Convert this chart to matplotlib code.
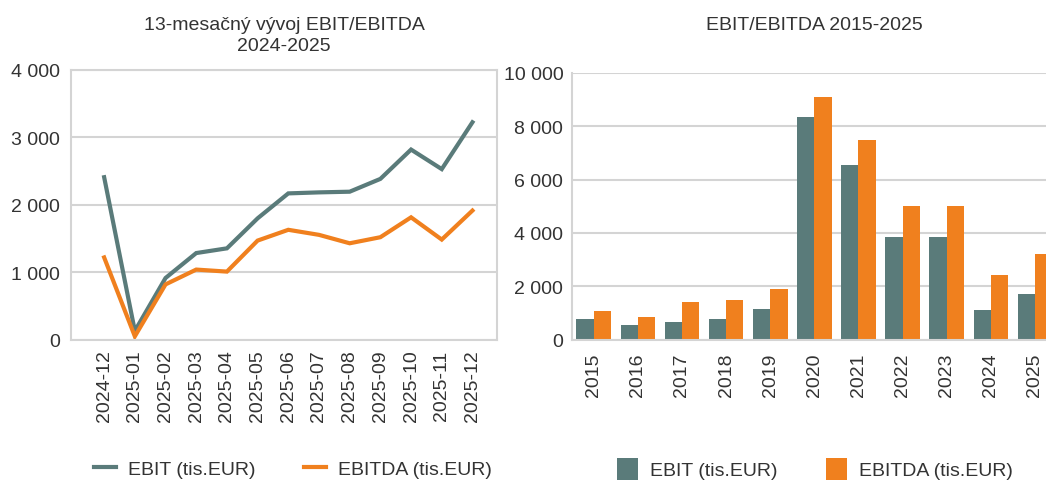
import numpy as np
import matplotlib
matplotlib.use("Agg")
import matplotlib.pyplot as plt
from matplotlib.ticker import FuncFormatter

plt.rcParams['font.family'] = ['Liberation Sans', 'DejaVu Sans']

# -------------------------------
# data
# -------------------------------
months = ['2024-12', '2025-01', '2025-02', '2025-03', '2025-04', '2025-05', '2025-06',
          '2025-07', '2025-08', '2025-09', '2025-10', '2025-11', '2025-12']
ebit_m = [2410, 130, 915, 1285, 1355, 1800, 2170, 2185, 2195, 2385, 2820, 2530, 3225]
ebitda_m = [1220, 50, 820, 1040, 1010, 1470, 1630, 1555, 1430, 1520, 1815, 1485, 1915]

years = ['2015', '2016', '2017', '2018', '2019', '2020', '2021', '2022', '2023', '2024', '2025']
ebit_y = [785, 535, 672, 784, 1158, 8330, 6537, 3848, 3848, 1115, 1715]
ebitda_y = [1083, 859, 1419, 1494, 1905, 9077, 7471, 5006, 5006, 2425, 3212]

c_ebit = '#5A7B7A'
c_ebitda = '#F0801E'
c_grid = '#D4D4D4'
c_text = '#333333'
fs = 14

def thousands(v, pos):
    return f'{int(v):,}'.replace(',', ' ')

W, H = 1046, 481
fig = plt.figure(figsize=(W / 100, H / 100), dpi=100)

# -------------------------------
# left: monthly lines
# -------------------------------
ax1 = fig.add_axes([71 / W, 1 - 340.7 / H, (497 - 71) / W, (340.7 - 71) / H])
x = np.arange(len(months))
l1, = ax1.plot(x, ebit_m, color=c_ebit, lw=3, solid_joinstyle='miter')
l2, = ax1.plot(x, ebitda_m, color=c_ebitda, lw=3, solid_joinstyle='miter')
ax1.set_xlim(-1.08, 12.8)
ax1.set_ylim(0, 4000)
ax1.set_yticks([0, 1000, 2000, 3000, 4000])
ax1.yaxis.set_major_formatter(FuncFormatter(thousands))
ax1.set_xticks(x)
ax1.set_xticklabels(months, rotation=90)
ax1.grid(axis='y', color=c_grid, lw=1.5)
ax1.set_axisbelow(True)
for s in ax1.spines.values():
    s.set_color(c_grid)
    s.set_linewidth(1.5)
ax1.tick_params(length=0, labelsize=fs, colors=c_text)
ax1.tick_params(axis='y', pad=8)
ax1.tick_params(axis='x', pad=7)

fig.text(284 / W, 1 - 36 / H, '13-mesačný vývoj EBIT/EBITDA\n2024-2025', ha='center', va='center',
         fontsize=fs, color=c_text, linespacing=1.25)

leg1 = fig.legend([l1, l2], ['EBIT (tis.EUR)', 'EBITDA (tis.EUR)'], loc='center left',
                  bbox_to_anchor=(76 / W, 1 - 470 / H), ncol=2, frameon=False, fontsize=fs,
                  handlelength=1.15, handletextpad=0.6, columnspacing=2.5, labelcolor=c_text)

# -------------------------------
# right: yearly bars
# -------------------------------
ax2 = fig.add_axes([571.7 / W, 1 - 340.7 / H, (1057 - 571.7) / W, (340.7 - 73.7) / H])
xi = np.arange(len(years))
bw = 0.392
b1 = ax2.bar(xi - bw / 2, ebit_y, width=bw, color=c_ebit)
b2 = ax2.bar(xi + bw / 2, ebitda_y, width=bw, color=c_ebitda)
ax2.set_xlim(-0.5, 10.5)
ax2.set_ylim(0, 10000)
ax2.set_yticks(range(0, 10001, 2000))
ax2.yaxis.set_major_formatter(FuncFormatter(thousands))
ax2.set_xticks(xi)
ax2.set_xticklabels(years, rotation=90)
ax2.grid(axis='y', color=c_grid, lw=1.5)
ax2.set_axisbelow(True)
ax2.spines['top'].set_visible(False)
ax2.spines['right'].set_visible(False)
for s in ['left', 'bottom']:
    ax2.spines[s].set_color(c_grid)
    ax2.spines[s].set_linewidth(1.5)
ax2.tick_params(length=0, labelsize=fs, colors=c_text)
ax2.tick_params(axis='y', pad=6)
ax2.tick_params(axis='x', pad=9)

fig.text(814 / W, 1 - 25 / H, 'EBIT/EBITDA 2015-2025', ha='center', va='center',
         fontsize=fs, color=c_text)

leg2 = fig.legend([b1, b2], ['EBIT (tis.EUR)', 'EBITDA (tis.EUR)'], loc='center left',
                  bbox_to_anchor=(599 / W, 1 - 470 / H), ncol=2, frameon=False, fontsize=fs,
                  handlelength=1.1, handleheight=1.35, handletextpad=0.6, columnspacing=2.5,
                  labelcolor=c_text)

fig.savefig('out.png', dpi=100)
